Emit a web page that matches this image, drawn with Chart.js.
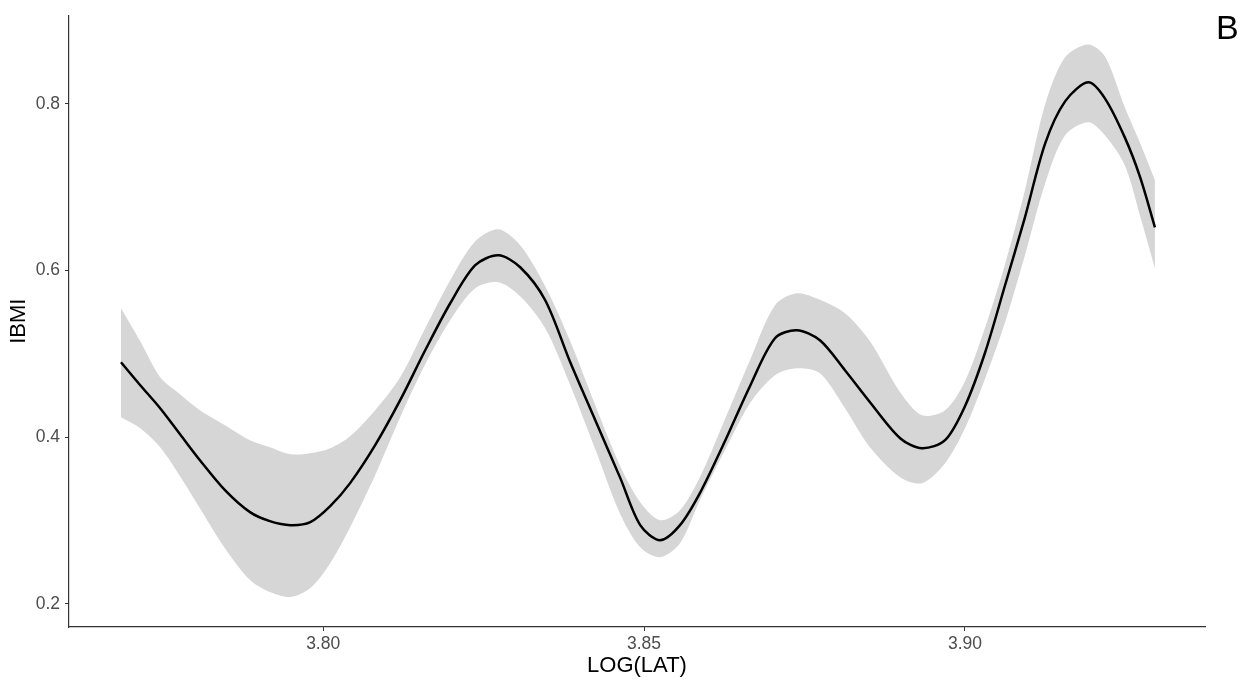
<!DOCTYPE html>
<html>
<head>
<meta charset="utf-8">
<script src="https://cdn.jsdelivr.net/npm/chart.js@4/dist/chart.umd.min.js"></script>
<style>
  html, body { margin: 0; padding: 0; background: #fff; }
  #wrap { position: relative; width: 1254px; height: 683px; }
  #panel { position: absolute; left: 1216px; top: 8px; font: 34px "Liberation Sans", Arial, sans-serif; color: #000; }
</style>
</head>
<body>
<div id="wrap">
  <canvas id="chart" width="1254" height="683"></canvas>
  <div id="panel">B</div>
</div>
<script>
// LOG(LAT) positions of the smoothed curve
var lat = [3.7685, 3.7715, 3.7746, 3.7777, 3.7808, 3.7847, 3.7886, 3.7917, 3.7949, 3.7980,
           3.8011, 3.8042, 3.8081, 3.8120, 3.8159, 3.8198, 3.8237, 3.8273, 3.8307, 3.8346,
           3.8385, 3.8424, 3.8463, 3.8494, 3.8525, 3.8556, 3.8587, 3.8626, 3.8665, 3.8704,
           3.8738, 3.8774, 3.8813, 3.8852, 3.8899, 3.8933, 3.8969, 3.9000, 3.9031, 3.9062,
           3.9093, 3.9125, 3.9156, 3.9192, 3.9218, 3.9249, 3.9273, 3.9296];

// fitted IBMI
var fit = [0.490, 0.4625, 0.4349, 0.4037, 0.3725, 0.3366, 0.3102, 0.2994, 0.2946, 0.2982,
           0.3174, 0.3450, 0.3905, 0.4445, 0.5044, 0.5608, 0.6064, 0.6183, 0.6040, 0.5644,
           0.4900, 0.4205, 0.3510, 0.2946, 0.2766, 0.2946, 0.3330, 0.3953, 0.4613, 0.5188,
           0.5284, 0.5164, 0.4804, 0.4421, 0.3989, 0.3869, 0.3965, 0.4373, 0.5008, 0.5812,
           0.6627, 0.7526, 0.8030, 0.8258, 0.8066, 0.7598, 0.7119, 0.6519];

// confidence band
var upper = [0.5548, 0.5152, 0.4721, 0.4517, 0.4325, 0.4145, 0.3965, 0.3881, 0.3797, 0.3809,
             0.3869, 0.4013, 0.4325, 0.4721, 0.5308, 0.5884, 0.6351, 0.6495, 0.6303, 0.5812,
             0.5152, 0.4385, 0.3653, 0.3222, 0.3006, 0.3126, 0.3522, 0.4217, 0.4924, 0.5584,
             0.5728, 0.5650, 0.5488, 0.5152, 0.4541, 0.4265, 0.4325, 0.4673, 0.5308, 0.6064,
             0.6951, 0.7994, 0.8558, 0.8713, 0.8570, 0.7958, 0.7526, 0.7083];
var lower = [0.4241, 0.4109, 0.3881, 0.3534, 0.3150, 0.2670, 0.2287, 0.2143, 0.2083, 0.2191,
             0.2490, 0.2922, 0.3546, 0.4241, 0.4876, 0.5404, 0.5788, 0.5860, 0.5692, 0.5308,
             0.4625, 0.3857, 0.3078, 0.2682, 0.2562, 0.2730, 0.3246, 0.3845, 0.4409, 0.4745,
             0.4829, 0.4769, 0.4349, 0.3881, 0.3522, 0.3450, 0.3689, 0.4109, 0.4697, 0.5368,
             0.6171, 0.7047, 0.7622, 0.7778, 0.7622, 0.7263, 0.6651, 0.6027];

var xTicks = [3.80, 3.85, 3.90];
var yTicks = [0.2, 0.4, 0.6, 0.8];

var pts = function (ys) {
    return lat.map(function (x, i) { return { x: x, y: ys[i] }; });
};

var font = "'Liberation Sans', Arial, sans-serif";
var bandColor = 'rgb(214,214,214)';
var smooth = { pointRadius: 0, tension: 0.3 };

var ctx = document.getElementById('chart').getContext('2d');
new Chart(ctx, {
    type: 'line',
    data: {
        datasets: [
            Object.assign({ data: pts(fit), borderWidth: 2.5, borderColor: '#000', fill: false, order: 0 }, smooth),
            Object.assign({ data: pts(upper), borderWidth: 0, borderColor: bandColor, backgroundColor: bandColor, fill: '+1', order: 1 }, smooth),
            Object.assign({ data: pts(lower), borderWidth: 0, borderColor: bandColor, backgroundColor: bandColor, fill: false, order: 2 }, smooth)
        ]
    },
    options: {
        responsive: false,
        animation: false,
        events: [],
        layout: { padding: { top: 15, right: 49, left: 0, bottom: 0 } },
        plugins: {
            legend: { display: false },
            tooltip: { enabled: false },
            filler: { drawTime: 'beforeDatasetsDraw' }
        },
        scales: {
            x: {
                type: 'linear',
                min: 3.7604,
                max: 3.9374,
                afterBuildTicks: function (axis) { axis.ticks = xTicks.map(function (v) { return { value: v }; }); },
                afterFit: function (axis) { axis.height = 56; },
                ticks: {
                    color: '#4d4d4d',
                    font: { family: font, size: 17.5 },
                    padding: 3,
                    maxRotation: 0,
                    callback: function (v) { return v.toFixed(2); }
                },
                grid: { drawOnChartArea: false, drawTicks: true, tickLength: 4, color: '#333' },
                border: { display: true, color: '#333', width: 1.2 },
                title: { display: true, text: 'LOG(LAT)', color: '#000', font: { family: font, size: 22 }, padding: { top: 0, bottom: 4 } }
            },
            y: {
                type: 'linear',
                min: 0.1724,
                max: 0.906,
                afterBuildTicks: function (axis) { axis.ticks = yTicks.map(function (v) { return { value: v }; }); },
                afterFit: function (axis) { axis.width = 69; },
                ticks: {
                    color: '#4d4d4d',
                    font: { family: font, size: 17.5 },
                    padding: 5,
                    callback: function (v) { return v.toFixed(1); }
                },
                grid: { drawOnChartArea: false, drawTicks: true, tickLength: 4, color: '#333' },
                border: { display: true, color: '#333', width: 1.2 },
                title: { display: true, text: 'IBMI', color: '#000', font: { family: font, size: 22 }, padding: { top: 6, bottom: 0 } }
            }
        }
    }
});
</script>
</body>
</html>
